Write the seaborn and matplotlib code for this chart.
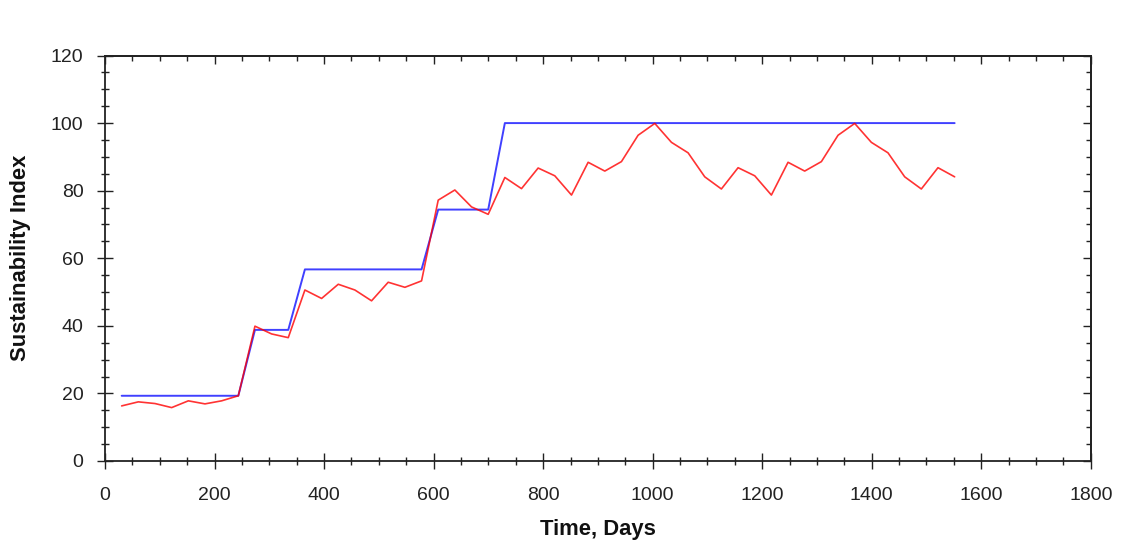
import matplotlib
matplotlib.use("Agg")
import matplotlib.pyplot as plt
from matplotlib.ticker import MultipleLocator
import seaborn as sns
import pandas as pd
import numpy as np

# Data: monthly samples (day = 30.42 * month)
months = list(range(1, 52))
days = [round(m * 30.42, 1) for m in months]

actual_index = [16.3, 17.5, 17.0, 15.8, 17.8, 16.9, 17.8, 19.3, 39.9, 37.6,
                36.5, 50.6, 48.1, 52.3, 50.6, 47.4, 52.9, 51.4, 53.3, 77.2,
                80.2, 75.2, 73.0, 83.9, 80.6, 86.7, 84.4, 78.7, 88.4, 85.8,
                88.6, 96.4, 99.9, 94.3, 91.2, 84.1, 80.5, 86.8, 84.4, 78.7,
                88.4, 85.8, 88.6, 96.4, 99.9, 94.3, 91.2, 84.1, 80.5, 86.8,
                84.1]

target_index = [19.3] * 8 + [38.8] * 3 + [56.7] * 8 + [74.4] * 4 + [100.0] * 28

x_ticks = [0, 200, 400, 600, 800, 1000, 1200, 1400, 1600, 1800]
y_ticks = [0, 20, 40, 60, 80, 100, 120]

df = pd.DataFrame({"day": days, "actual": actual_index, "target": target_index})

sns.set_theme(style="ticks")
plt.rcParams["font.family"] = ["Liberation Sans", "DejaVu Sans"]

fig = plt.figure(figsize=(11.28, 5.54), dpi=100)
ax = fig.add_axes([0.0931, 0.1679, 0.967 - 0.0931, 0.8998 - 0.1679])

sns.lineplot(data=df, x="day", y="target", ax=ax, color="#0000ff", linewidth=1.4, alpha=0.75)
sns.lineplot(data=df, x="day", y="actual", ax=ax, color="#ff0000", linewidth=1.2, alpha=0.8)

ax.set_xlim(0, 1800)
ax.set_ylim(0, 120)
ax.set_xticks(x_ticks)
ax.set_yticks(y_ticks)
ax.xaxis.set_minor_locator(MultipleLocator(50))
ax.yaxis.set_minor_locator(MultipleLocator(5))

ax.tick_params(axis="both", which="major", direction="inout", length=11, width=1.0,
               colors="#222222", labelsize=14, labelcolor="#222222")
ax.tick_params(axis="both", which="minor", direction="inout", length=6, width=1.0,
               colors="#222222")
ax.tick_params(axis="x", which="major", pad=13)
ax.tick_params(axis="y", which="major", pad=10)

for side in ["left", "bottom", "top", "right"]:
    ax.spines[side].set_visible(True)
    ax.spines[side].set_linewidth(1.3)
    ax.spines[side].set_color("#222222")

# top and right inward ticks
ident = (lambda v: v, lambda v: v)
top = ax.secondary_xaxis("top", functions=ident)
top.set_xticks(x_ticks)
top.xaxis.set_minor_locator(MultipleLocator(50))
top.tick_params(which="major", direction="in", length=6, width=1.0, colors="#222222", labeltop=False)
top.tick_params(which="minor", direction="in", length=3.5, width=1.0, colors="#222222")
top.spines["top"].set_linewidth(1.3)
top.spines["top"].set_color("#222222")

right = ax.secondary_yaxis("right", functions=ident)
right.set_yticks(y_ticks)
right.yaxis.set_minor_locator(MultipleLocator(5))
right.tick_params(which="major", direction="in", length=6, width=1.0, colors="#222222", labelright=False)
right.tick_params(which="minor", direction="in", length=3.5, width=1.0, colors="#222222")
right.spines["right"].set_linewidth(1.3)
right.spines["right"].set_color("#222222")

ax.set_xlabel("Time, Days", fontsize=15.8, fontweight="bold", color="#111111", labelpad=11)
ax.set_ylabel("Sustainability Index", fontsize=15.8, fontweight="bold", color="#111111", labelpad=14)

fig.savefig("out.png", dpi=100, facecolor="white")
